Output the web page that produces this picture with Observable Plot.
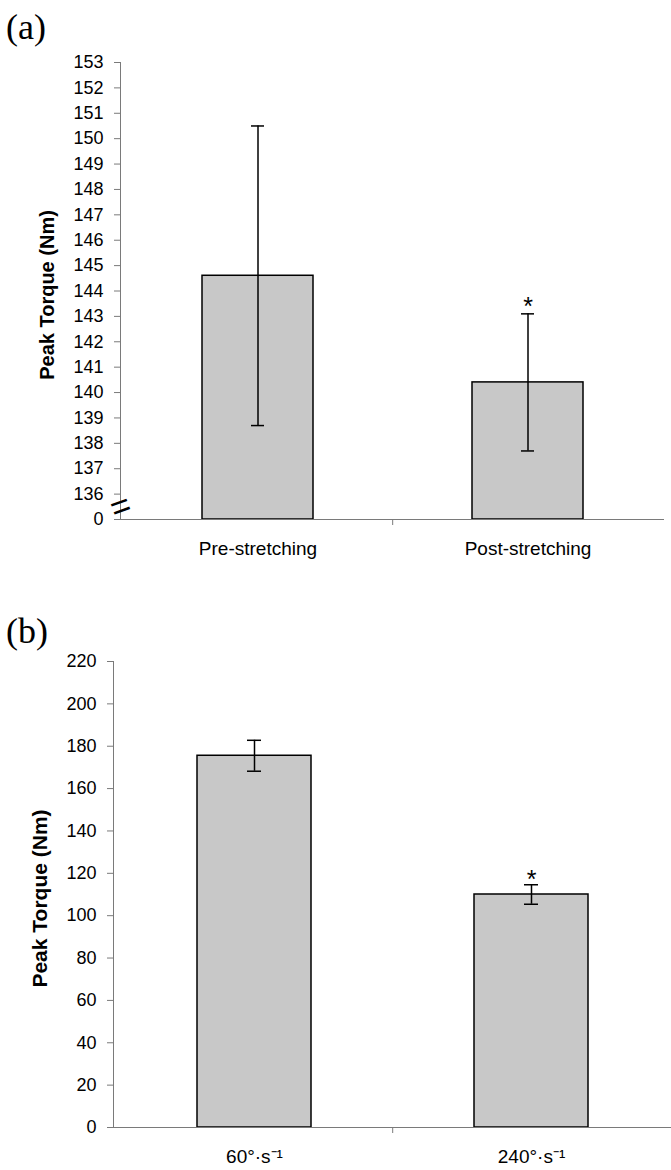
<!DOCTYPE html>
<html>
<head>
<meta charset="utf-8">
<script src="https://cdn.jsdelivr.net/npm/d3@7"></script>
<script src="https://cdn.jsdelivr.net/npm/@observablehq/plot@0.6"></script>
<style>
  html, body { margin: 0; padding: 0; background: #fff; }
  #wrap { position: relative; width: 671px; height: 1170px; overflow: hidden; }
  .panel-label { position: absolute; font-family: "Liberation Serif", "Times New Roman", serif; font-size: 36px; line-height: 1; color: #000; }
  .chart { position: absolute; left: 0; }
</style>
</head>
<body>
<div id="wrap">
  <div class="panel-label" style="left:6px; top:9px;">(a)</div>
  <div class="chart" id="chartA" style="top:0px;"></div>
  <div class="panel-label" style="left:6px; top:613px;">(b)</div>
  <div class="chart" id="chartB" style="top:590px;"></div>
</div>
<script>
// ---- Panel (a) data ----
const categoriesA = ["Pre-stretching", "Post-stretching"];
const meansA = [144.6, 140.4];
const sdA = [5.9, 2.7];
const significantA = [false, true];
const yTicksA = [135, 136, 137, 138, 139, 140, 141, 142, 143, 144, 145, 146, 147, 148, 149, 150, 151, 152, 153];
const breakValueA = 135; // axis break: the bottom tick stands for 0

// ---- Panel (b) data ----
const categoriesB = ["60°·s⁻¹", "240°·s⁻¹"];
const meansB = [175.5, 110];
const sdB = [7.3, 4.6];
const significantB = [false, true];
const yTicksB = [0, 20, 40, 60, 80, 100, 120, 140, 160, 180, 200, 220];

const yLabel = "Peak Torque (Nm)";

const dataA = categoriesA.map((c, i) => ({cat: c, mean: meansA[i], sd: sdA[i], sig: significantA[i]}));
const dataB = categoriesB.map((c, i) => ({cat: c, mean: meansB[i], sd: sdB[i], sig: significantB[i]}));

const barFill = "#c8c8c8";
const axisGray = "#7a7a7a";
const font = "'Liberation Sans', Arial, sans-serif";
const padInner = 0.59, padOuter = 0.3;

function panel({data, categories, domain, ticks, tickFormat, base, width, height, margins, labelDx, labelDy, labelSize, capInset, breakMark, starDy}) {
  const plotW = width - margins[1] - margins[3];
  const step = plotW / (categories.length - padInner + 2 * padOuter);
  const marks = [
    Plot.barY(data, {x: "cat", y1: () => base, y2: "mean", fill: barFill, stroke: "#000", strokeWidth: 1.5}),
    Plot.ruleY([base], {stroke: axisGray, strokeWidth: 1}),
    Plot.frame({anchor: "left", stroke: axisGray, strokeWidth: 1}),
    // divider tick between the two categories, just below the baseline
    Plot.ruleX(categories.slice(1), {x: d => d, y1: () => base, y2: () => base, dx: -step / 2, insetBottom: -6, stroke: axisGray, strokeWidth: 1}),
    Plot.ruleX(data, {x: "cat", y1: d => d.mean - d.sd, y2: d => d.mean + d.sd, stroke: "#000", strokeWidth: 1.5}),
    Plot.tickY(data, {x: "cat", y: d => d.mean + d.sd, stroke: "#000", strokeWidth: 1.5, insetLeft: capInset, insetRight: capInset}),
    Plot.tickY(data, {x: "cat", y: d => d.mean - d.sd, stroke: "#000", strokeWidth: 1.5, insetLeft: capInset, insetRight: capInset}),
    Plot.text(data.filter(d => d.sig), {x: "cat", y: d => d.mean + d.sd, text: () => "*", fontSize: 25, lineAnchor: "bottom", dy: starDy, fill: "#000"}),
    Plot.axisY({ticks, tickFormat, tickSize: 6, tickPadding: 11, stroke: axisGray, fill: "#000", label: null, fontSize: 18}),
    Plot.axisX({tickSize: 0, tickPadding: 22, label: null, fontSize: 19, fill: "#000"}),
    Plot.text([yLabel], {frameAnchor: "left", textAnchor: "middle", dx: labelDx, dy: labelDy, rotate: -90, fontWeight: "bold", fontSize: labelSize, fill: "#000"})
  ];
  if (breakMark) {
    marks.push(Plot.text(["="], {y: () => breakMark, frameAnchor: "left", textAnchor: "middle", text: d => d, rotate: -20, fontSize: 34, fill: "#000", dx: 0, dy: 0}));
  }
  return Plot.plot({
    width, height,
    marginTop: margins[0], marginRight: margins[1], marginBottom: margins[2], marginLeft: margins[3],
    style: {fontFamily: font, fontSize: "18px", background: "transparent", color: "#000", overflow: "visible"},
    x: {domain: categories, paddingInner: padInner, paddingOuter: padOuter, label: null},
    y: {domain, label: null},
    marks
  });
}

document.getElementById("chartA").append(panel({
  data: dataA, categories: categoriesA, domain: [yTicksA[0], yTicksA[yTicksA.length - 1]],
  ticks: yTicksA, tickFormat: d => d === breakValueA ? "0" : String(d), base: breakValueA,
  width: 671, height: 575, margins: [62, 7, 56, 120], labelDx: -73, labelDy: 4, labelSize: 20, capInset: 49, breakMark: 135.5, starDy: 1
}));

document.getElementById("chartB").append(panel({
  data: dataB, categories: categoriesB, domain: [yTicksB[0], yTicksB[yTicksB.length - 1]],
  ticks: yTicksB, tickFormat: d => String(d), base: 0,
  width: 671, height: 580, margins: [71, 0, 43, 113], labelDx: -73, labelDy: 4, labelSize: 21, capInset: 50, breakMark: null, starDy: 3
}));
</script>
</body>
</html>
